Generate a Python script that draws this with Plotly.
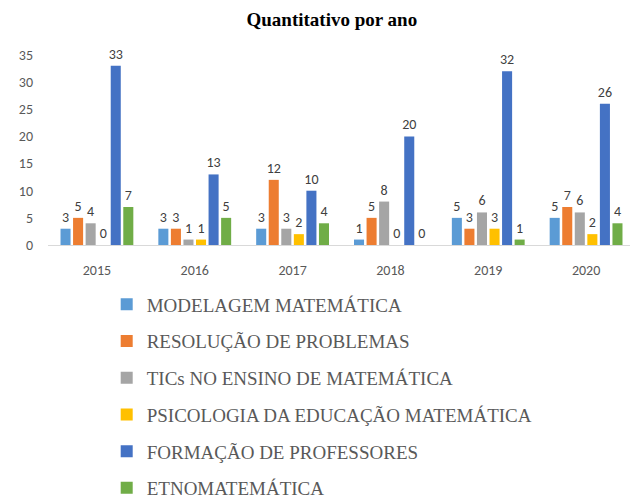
import plotly.graph_objects as go

years = ["2015", "2016", "2017", "2018", "2019", "2020"]
series_names = [
    "MODELAGEM MATEMÁTICA",
    "RESOLUÇÃO DE PROBLEMAS",
    "TICs NO ENSINO DE MATEMÁTICA",
    "PSICOLOGIA DA EDUCAÇÃO MATEMÁTICA",
    "FORMAÇÃO DE PROFESSORES",
    "ETNOMATEMÁTICA",
]
modelagem = [3, 3, 3, 1, 5, 5]
resolucao = [5, 3, 12, 5, 3, 7]
tics = [4, 1, 3, 8, 6, 6]
psicologia = [0, 1, 2, 0, 3, 2]
formacao = [33, 13, 10, 20, 32, 26]
etno = [7, 5, 4, 0, 1, 4]
colors = ["#5B9BD5", "#ED7D31", "#A5A5A5", "#FFC000", "#4472C4", "#70AD47"]

all_values = [modelagem, resolucao, tics, psicologia, formacao, etno]

num_font = "Liberation Sans Narrow, Arial Narrow, Carlito, sans-serif"

fig = go.Figure()
for i, (name, vals) in enumerate(zip(series_names, all_values)):
    fig.add_trace(go.Bar(
        x=years, y=vals, name=name,
        marker=dict(color=colors[i], line=dict(width=0)),
        text=[str(v) for v in vals], textposition="outside",
        textfont=dict(family=num_font, size=14, color="#404040"),
        cliponaxis=False, legendgroup=f"g{i}",
    ))

fig.update_layout(
    width=630, height=492,
    paper_bgcolor="white", plot_bgcolor="white",
    margin=dict(l=40, r=3, t=47, b=255, autoexpand=False),
    title=dict(text="<b>Quantitativo por ano</b>", x=0.514, xanchor="center", y=0.976, yanchor="middle",
               yref="container",
               font=dict(family="Liberation Serif, Times New Roman, serif", size=19, color="black")),
    barmode="group", bargap=0.23, bargroupgap=0.2,
    showlegend=True,
    legend=dict(orientation="v", x=0.1, xanchor="left", y=0.436, yanchor="top", yref="container",
                font=dict(family="Liberation Serif, Times New Roman, serif", size=19, color="#595959"),
                tracegroupgap=9, itemwidth=30, bgcolor="rgba(0,0,0,0)"),
    uniformtext=dict(mode="show", minsize=14),
)
fig.update_xaxes(showline=True, linecolor="#D9D9D9", linewidth=1, ticks="", showgrid=False,
                 tickfont=dict(family=num_font, size=14, color="#595959"), ticklabelstandoff=12)
fig.update_yaxes(range=[0, 35], dtick=5, showgrid=False, zeroline=False, showline=False,
                 tickfont=dict(family=num_font, size=14, color="#595959"), ticklabelstandoff=14)

fig.write_html("out.html")
